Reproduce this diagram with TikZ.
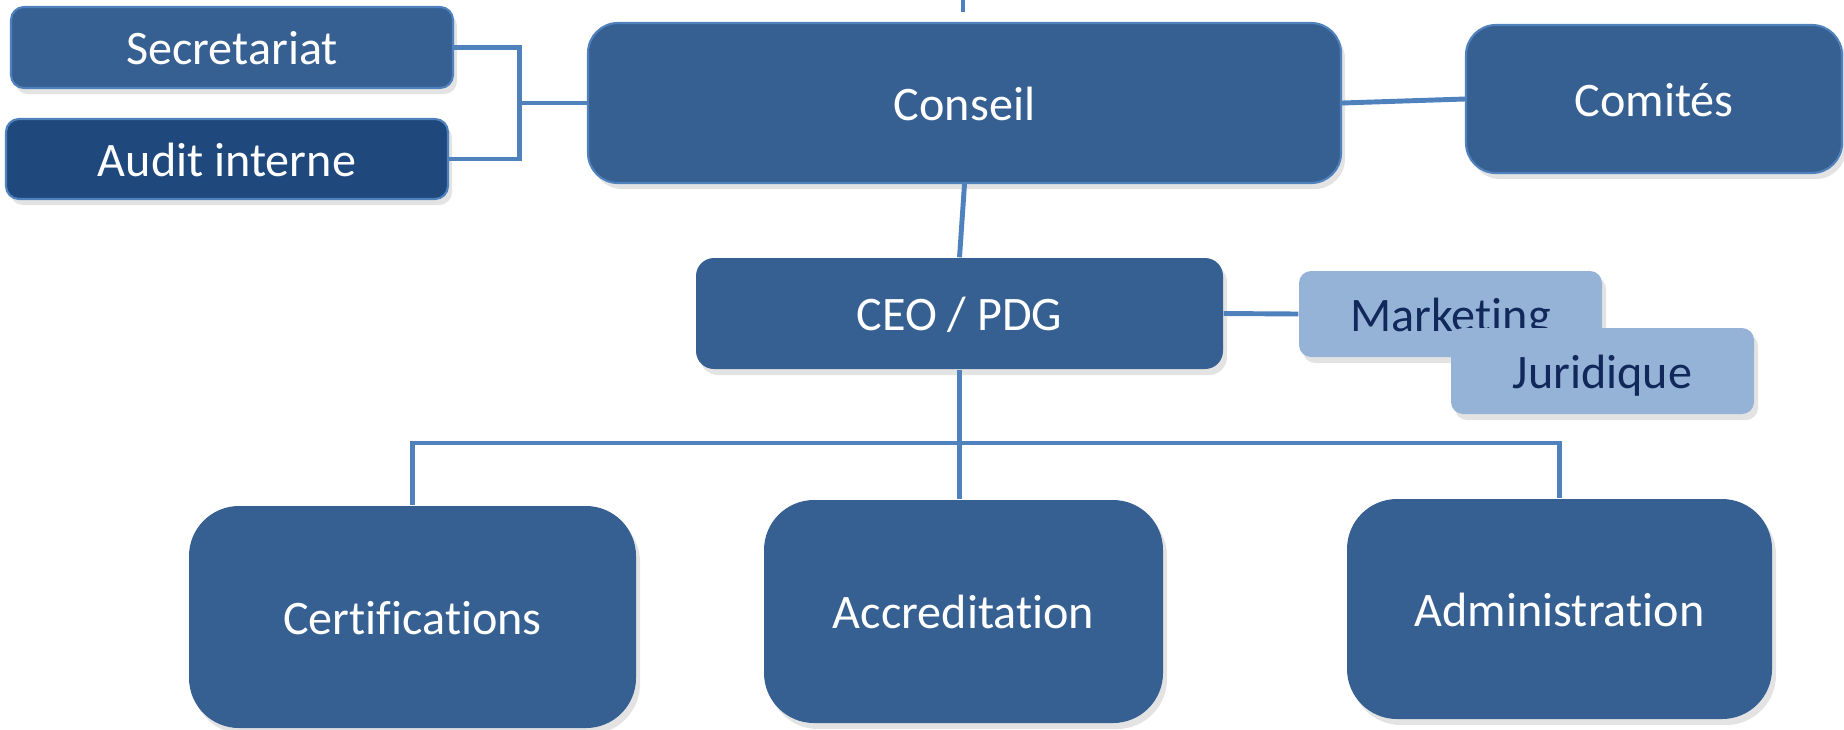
\documentclass[tikz,border=0pt]{standalone}
\usepackage{fontspec}
\setmainfont{Carlito}[Ligatures=NoCommon]
\usetikzlibrary{shadows}
\definecolor{boxmain}{HTML}{376092}
\definecolor{boxdark}{HTML}{1F497D}
\definecolor{boxlight}{HTML}{95B3D7}
\definecolor{linecol}{HTML}{4F81BD}
\definecolor{navytext}{HTML}{10285A}
\tikzset{
  unit/.style={rectangle, inner sep=0pt, font=\fontsize{13.7}{16}\selectfont,
    text=white, fill=boxmain, text height=3.47mm, text depth=0pt,
    drop shadow={shadow xshift=0.4mm, shadow yshift=-0.6mm, opacity=0.22}},
  bordered/.style={draw=linecol, line width=0.6pt},
  lightunit/.style={unit, fill=boxlight, text=navytext},
  conn/.style={draw=linecol, line width=1.4pt},
}
\begin{document}
\begin{tikzpicture}[x=0.1mm,y=-0.1mm]
\useasboundingbox (0,0) rectangle (1844,729);
% nodes
\node[unit,bordered,minimum width=44.2mm,minimum height=8.1mm,rounded corners=1.3mm] (sec) at (232,47.5) {Secretariat};
\node[unit,bordered,fill=boxdark,minimum width=44.2mm,minimum height=8mm,rounded corners=1.3mm] (audit) at (227,159) {Audit interne};
\node[unit,bordered,minimum width=75.3mm,minimum height=16mm,rounded corners=3mm] (conseil) at (964.5,103) {Conseil};
\node[unit,bordered,minimum width=37.6mm,minimum height=14.8mm,rounded corners=3mm] (comites) at (1654,99) {Comités};
\node[unit,minimum width=52.7mm,minimum height=11.1mm,rounded corners=1.8mm] (ceo) at (959.5,313.5) {CEO / PDG};
\node[lightunit,minimum width=30.3mm,minimum height=8.6mm,rounded corners=1.2mm] (mkt) at (1450.5,314) {Marketing};
\node[lightunit,minimum width=30.3mm,minimum height=8.6mm,rounded corners=1.2mm] (jur) at (1602.5,371) {Juridique};
\node[unit,minimum width=44.7mm,minimum height=22.2mm,rounded corners=5mm] (cert) at (412.5,617) {Certifications};
\node[unit,minimum width=39.9mm,minimum height=22.3mm,rounded corners=5mm] (accr) at (963.5,611.5) {Accreditation};
\node[unit,minimum width=42.5mm,minimum height=22mm,rounded corners=5mm] (admin) at (1559.5,609) {Administration};
% connectors
\draw[conn] (sec.east) -- ++(65,0) |- (audit.east);
\coordinate (cj) at (522,103);
\draw[conn] (cj) -- (conseil.west);
\coordinate (topA) at (963,0);
\coordinate (topB) at (963,12);
\draw[conn] (topA) -- (topB);
\draw[conn] (conseil.south) -- (ceo.north);
\draw[conn] (conseil.east) -- (comites.west);
\draw[conn] (ceo.east) -- (mkt.west);
\coordinate (bar) at (960,443);
\draw[conn] (ceo.south) -- (ceo.south |- accr.north);
\draw[conn] (cert.north) |- (bar) -| (admin.north);
\end{tikzpicture}
\end{document}
